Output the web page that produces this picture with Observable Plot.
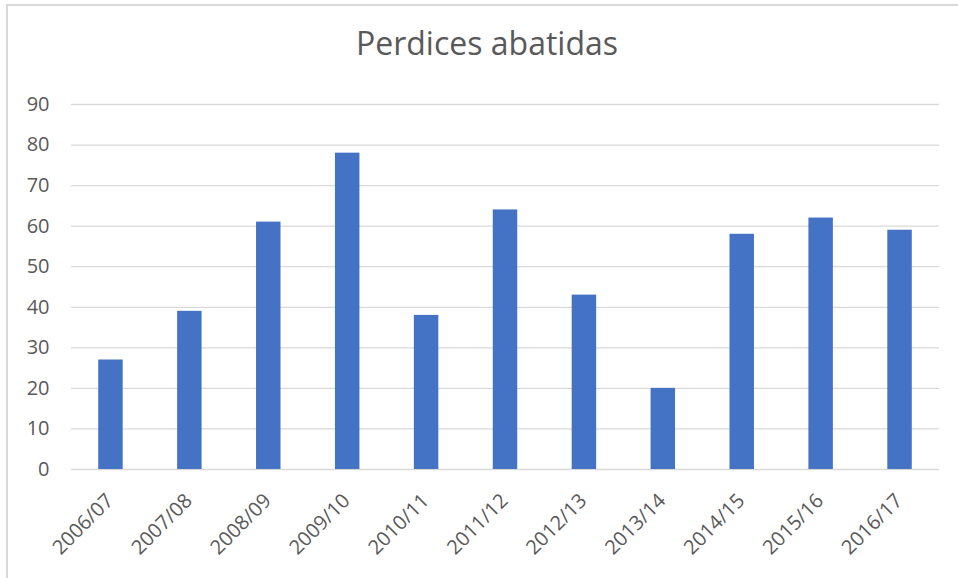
<!DOCTYPE html>
<html>
<head>
<meta charset="utf-8">
<script src="https://cdn.jsdelivr.net/npm/d3@7"></script>
<script src="https://cdn.jsdelivr.net/npm/@observablehq/plot@0.6"></script>
<style>
  html, body { margin: 0; padding: 0; background: #fff; }
  #wrap { position: relative; width: 958px; height: 578px; overflow: hidden; font-family: "Open Sans", sans-serif; }
  #frame { position: absolute; left: 6px; top: 4px; right: -4px; bottom: -4px; border-left: 2px solid #d9d9d9; border-top: 2px solid #d9d9d9; pointer-events: none; }
  #title { height: 80px; position: relative; }
  #title span { position: absolute; left: 16px; right: 0; top: 27px; text-align: center; font-size: 32px; line-height: 32px; color: #595959; }
  #chart svg { display: block; }
</style>
</head>
<body>
<div id="wrap">
  <div id="frame"></div>
  <div id="title"><span>Perdices abatidas</span></div>
  <div id="chart"></div>
</div>
<script>
const seasons = ["2006/07","2007/08","2008/09","2009/10","2010/11","2011/12","2012/13","2013/14","2014/15","2015/16","2016/17"];
const values = [27, 39, 61, 78, 38, 64, 43, 20, 58, 62, 59];
const yTicks = [0, 10, 20, 30, 40, 50, 60, 70, 80, 90];

const data = seasons.map((s, i) => ({season: s, value: values[i]}));

const chart = Plot.plot({
  width: 958,
  height: 498,
  marginTop: 24,
  marginBottom: 109,
  marginLeft: 71,
  marginRight: 19,
  style: {fontFamily: "Open Sans, sans-serif", fontSize: "20px", color: "#595959", background: "transparent"},
  x: {domain: seasons, paddingInner: 0.69, paddingOuter: 0.345, round: false, label: null},
  y: {domain: [0, 90], label: null},
  marks: [
    Plot.ruleY(yTicks, {stroke: "#d9d9d9", strokeWidth: 1.3}),
    Plot.barY(data, {x: "season", y: "value", fill: "#4472C4"}),
    Plot.axisY({ticks: yTicks, tickSize: 0, tickPadding: 22, fill: "#595959", fontSize: 20, label: null}),
    Plot.axisX({tickSize: 0, tickPadding: 28, dx: -1, tickRotate: -45, fill: "#595959", fontSize: 20, label: null})
  ]
});
document.getElementById("chart").appendChild(chart);
</script>
</body>
</html>
